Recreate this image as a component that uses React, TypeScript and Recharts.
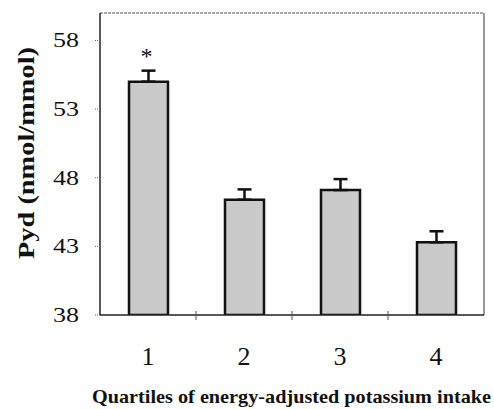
import { Bar, BarChart, ErrorBar, LabelList, XAxis, YAxis, usePlotArea } from "recharts";

const quartiles = ["1", "2", "3", "4"];
const pydMeans = [55.0, 46.4, 47.1, 43.3];
const pydErrors = [0.8, 0.75, 0.8, 0.8];
const sigMarks = ["*", "", "", ""];
const yTicks = [38, 43, 48, 53, 58];
const yDomain = [38, 60];

const data = quartiles.map((q, i) => ({
  q,
  pyd: pydMeans[i],
  err: [0, pydErrors[i]],
  mark: sigMarks[i],
}));

const serif = "'Liberation Serif', 'Times New Roman', serif";

// outline round the plot area (top and right edges; left/bottom are the axes)
function PlotFrame() {
  const area = typeof usePlotArea === "function" ? usePlotArea() : null;
  if (!area) return null;
  const { x, y, width, height } = area as any;
  return (
    <g>
      <line x1={x} x2={x + width} y1={y} y2={y} stroke="#555" strokeWidth={1.2} strokeDasharray="3 1" />
      <line x1={x + width} x2={x + width} y1={y} y2={y + height} stroke="#555" strokeWidth={1.2} />
    </g>
  );
}

function QuartileTick(props: any) {
  const { x, y, payload, index } = props;
  const half = payload?.offset ?? 48;
  return (
    <g>
      {index > 0 && (
        <line x1={x - half} x2={x - half} y1={y - 4} y2={y + 5} stroke="#555" strokeWidth={1} />
      )}
      <text x={x} y={y + 50} textAnchor="middle" fontFamily={serif} fontSize={26} fill="#111">
        {payload.value}
      </text>
    </g>
  );
}

function PydTick(props: any) {
  const { x, y, payload } = props;
  return (
    <text
      x={x - 42}
      y={y}
      textAnchor="start"
      dominantBaseline="central"
      fontFamily={serif}
      fontSize={21}
      textLength={26}
      lengthAdjust="spacingAndGlyphs"
      fill="#111"
    >
      {payload.value}
    </text>
  );
}

function YLabel(props: any) {
  const { viewBox } = props;
  const cx = viewBox.x + 26;
  const cy = viewBox.y + viewBox.height / 2 - 11 + 106;
  return (
    <text
      x={cx}
      y={cy}
      transform={`rotate(-90 ${cx} ${cy})`}
      textAnchor="start"
      dominantBaseline="central"
      fontFamily={serif}
      fontWeight="bold"
      fontSize={23}
      textLength={212}
      lengthAdjust="spacingAndGlyphs"
      fill="#111"
    >
      Pyd (nmol/mmol)
    </text>
  );
}

function XLabel(props: any) {
  const { viewBox } = props;
  const cx = viewBox.x + viewBox.width / 2;
  return (
    <text
      x={cx - 200}
      y={viewBox.y + 88}
      textAnchor="start"
      fontFamily={serif}
      fontWeight="bold"
      fontSize={19}
      textLength={399}
      lengthAdjust="spacingAndGlyphs"
      fill="#111"
    >
      Quartiles of energy-adjusted potassium intake
    </text>
  );
}

function StarLabel(props: any) {
  const { x, y, width, value } = props;
  if (!value) return null;
  return (
    <text x={x + width / 2 - 2} y={y - 18} textAnchor="middle" fontFamily={serif} fontSize={24} fill="#111">
      {value}
    </text>
  );
}

export default function App() {
  return (
    <div style={{ position: "absolute", left: 0, top: 0 }}>
      <BarChart
        width={494}
        height={409}
        data={data}
        margin={{ top: 13, right: 10, bottom: 0, left: 0 }}
        barSize={39}
      >
        <PlotFrame />
        <XAxis
          dataKey="q"
          height={94}
          tickSize={0}
          tickMargin={0}
          tick={<QuartileTick />}
          axisLine={{ stroke: "#222", strokeWidth: 1.5 }}
          tickLine={false}
          label={{ content: <XLabel /> }}
        />
        <YAxis
          width={100}
          domain={yDomain}
          ticks={yTicks}
          allowDataOverflow
          tickSize={5}
          tickMargin={0}
          tick={<PydTick />}
          tickLine={{ stroke: "#666", strokeDasharray: "1 1" }}
          axisLine={{ stroke: "#222", strokeWidth: 1.5 }}
          label={{ content: <YLabel /> }}
        />
        <Bar dataKey="pyd" fill="#c9c9c9" stroke="#111" strokeWidth={2.5} isAnimationActive={false}>
          <ErrorBar dataKey="err" direction="y" width={7} stroke="#111" strokeWidth={2.5} />
          <LabelList dataKey="mark" content={<StarLabel />} />
        </Bar>
      </BarChart>
    </div>
  );
}
